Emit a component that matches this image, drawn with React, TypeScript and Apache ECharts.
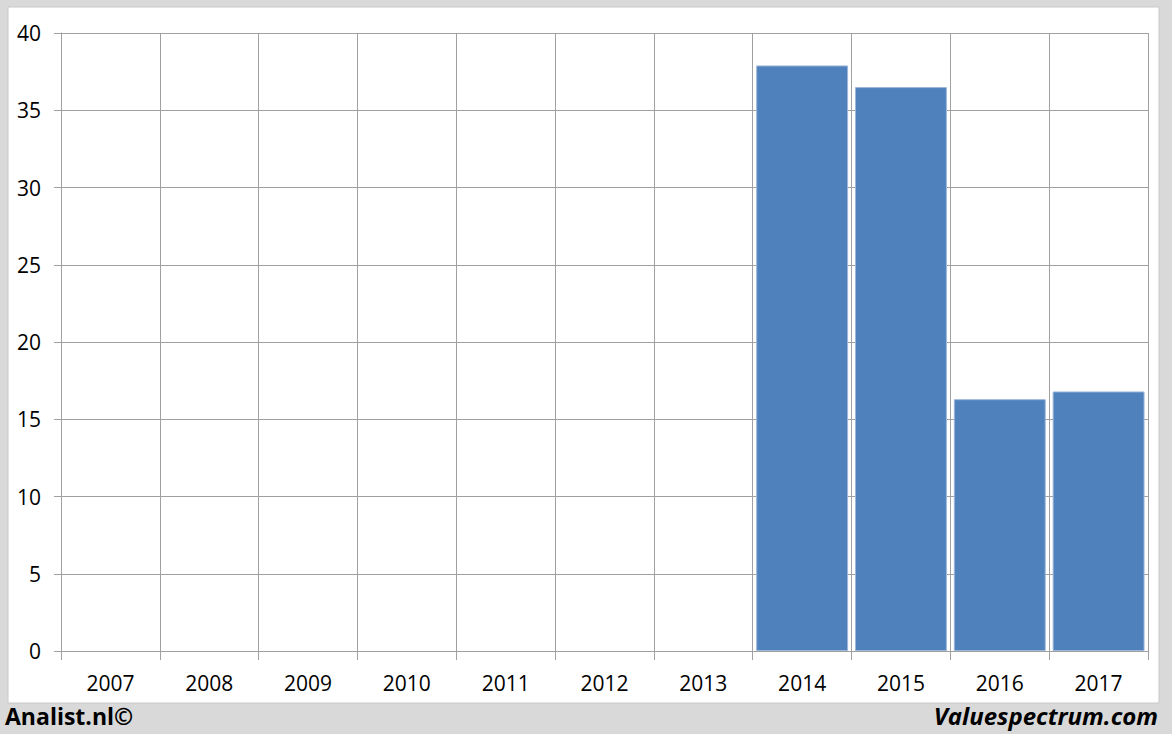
import React, { useEffect, useRef } from "react";
import * as echarts from "echarts";

const categories = ["2007", "2008", "2009", "2010", "2011", "2012", "2013", "2014", "2015", "2016", "2017"];
const values: (number | null)[] = [null, null, null, null, null, null, null, 37.9, 36.5, 16.3, 16.8];
const leftFooter = "Analist.nl©";
const rightFooter = "Valuespectrum.com";

const FONT = "'Open Sans', 'Noto Sans', sans-serif";

export default function App() {
  const ref = useRef<HTMLDivElement>(null);
  useEffect(() => {
    document.body.style.margin = "0";
    const chart = echarts.init(ref.current!, undefined, { renderer: "svg" });
    chart.setOption({
      animation: false,
      backgroundColor: "#d9d9d9",
      graphic: [
        {
          type: "rect",
          z: -10,
          shape: { x: 8, y: 7, width: 1151, height: 696 },
          style: { fill: "#ffffff", stroke: "#c8c8c8", lineWidth: 1 },
          silent: true,
        },
        {
          type: "text",
          left: 5,
          top: 704,
          style: { text: leftFooter, font: `bold 23px ${FONT}`, fill: "#000" },
        },
        {
          type: "text",
          right: 14,
          top: 703,
          style: { text: rightFooter, font: `italic bold 24px ${FONT}`, fill: "#000" },
        },
      ],
      grid: { left: 61, top: 33, width: 1087, height: 618, containLabel: false },
      xAxis: {
        type: "category",
        data: categories,
        boundaryGap: true,
        axisLine: { show: true, lineStyle: { color: "#a0a0a0", width: 1 } },
        axisTick: { show: true, length: 9, lineStyle: { color: "#a0a0a0" } },
        splitLine: { show: true, lineStyle: { color: "#a0a0a0", width: 1 } },
        axisLabel: { color: "#000", fontSize: 21, fontFamily: FONT, margin: 21 },
      },
      yAxis: {
        type: "value",
        min: 0,
        max: 40,
        interval: 5,
        axisLine: { show: true, lineStyle: { color: "#a0a0a0" } },
        axisTick: { show: true, length: 7, lineStyle: { color: "#a0a0a0" } },
        splitLine: { show: true, lineStyle: { color: "#a0a0a0", width: 1 } },
        axisLabel: { color: "#000", fontSize: 21, fontFamily: FONT, margin: 20 },
      },
      series: [
        {
          type: "bar",
          data: values,
          barCategoryGap: "7%",
          itemStyle: { color: "#4f81bd", borderColor: "#9db7d8", borderWidth: 1 },
        },
      ],
    });
    return () => chart.dispose();
  }, []);
  return <div ref={ref} style={{ position: "fixed", left: 0, top: 0, width: 1172, height: 734 }} />;
}
